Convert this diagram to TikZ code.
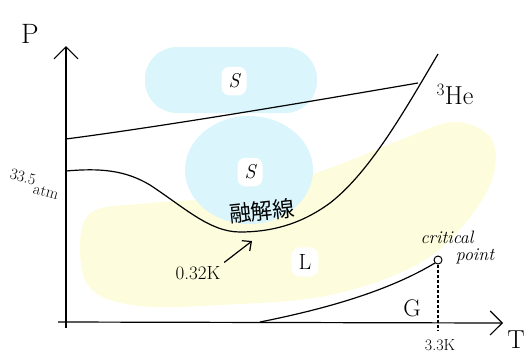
\documentclass[tikz,border=0pt]{standalone}
\usepackage{fontspec}
\newfontfamily\jpfont{Noto Sans CJK JP}
\usetikzlibrary{arrows.meta}
\definecolor{solidblue}{RGB}{218,245,252}
\definecolor{liqyellow}{RGB}{253,252,221}
\newcommand{\fs}[1]{\fontsize{#1}{#1}\selectfont}

\begin{document}
\begin{tikzpicture}[x=1pt,y=-1pt,line width=1.2,
    phase/.style={fill=white,rounded corners=8,inner sep=7,font=\fs{20}\itshape},
    barb/.style={-{Straight Barb[length=7,width=13]}}]
\useasboundingbox (0,0) rectangle (529,354);
% phase regions
\fill[liqyellow] plot[smooth cycle,tension=0.6] coordinates {(80,250) (92,212) (150,203) (240,195) (330,168) (400,140) (455,122) (492,140) (490,185) (450,240) (400,273) (320,297) (220,305) (140,306) (92,290)};
\fill[solidblue,rounded corners=32] (145,47) rectangle (317,113);
\fill[solidblue] (249,170) ellipse [x radius=64,y radius=54];
% axes
\coordinate (pbot) at (66,328);
\coordinate (ptop) at (66,46);
\coordinate (tleft) at (58,322);
\coordinate (tright) at (503,323);
\draw[-{Straight Barb[length=12,width=24]}] (pbot) -- (ptop);
\draw[-{Straight Barb[length=12,width=24]}] (tleft) -- (tright);
\node[font=\fs{28}] (plbl) at (30,34) {P};
\node[font=\fs{26}] (tlbl) at (516,340) {T};
% phase boundaries
\draw (66,139) .. controls (180,124) and (330,98) .. (418,83);
\draw (66,171) .. controls (100,168) and (125,170) .. (150,185)
  .. controls (185,208) and (210,232) .. (240,232)
  .. controls (270,232) and (300,225) .. (330,203)
  .. controls (370,172) and (405,110) .. (438,54);
\draw (260,322) .. controls (330,308) and (390,290) .. (435,263);
% labels
\node[phase] (s1) at (234,81) {S};
\node[phase] (s2) at (250,172) {S};
\node[phase,font=\fs{22}] (liq) at (305,262) {L};
\node[font=\fs{24}] (gas) at (412,308) {G};
\node[font=\fs{26}] (he3) at (455,95) {$^3$He};
\node[rotate=-15,font=\fs{16}] (pval) at (23,177) {33.5};
\node[rotate=-15,font=\fs{16}] (punit) at (46,192) {atm};
\node[rotate=6,font=\jpfont\fs{22}] (melt) at (262,211) {融解線};
\node[font=\fs{19}] (tmin) at (198,273) {0.32K};
\coordinate (mintip) at (252,241);
\draw[barb] (tmin.north east) -- (mintip);
\node[circle,draw,fill=white,inner sep=0,minimum size=8,line width=1] (cp) at (438,260) {};
\node[font=\fs{18}\itshape] (cptxt) at (447,237) {critical};
\node[font=\fs{18}\itshape] (cptxt2) at (475,256) {point};
\coordinate (tc) at (438,331);
\draw[densely dashed] (cp) -- (tc);
\node[font=\fs{16}] (tcval) at (440,345) {3.3K};
\end{tikzpicture}
\end{document}
